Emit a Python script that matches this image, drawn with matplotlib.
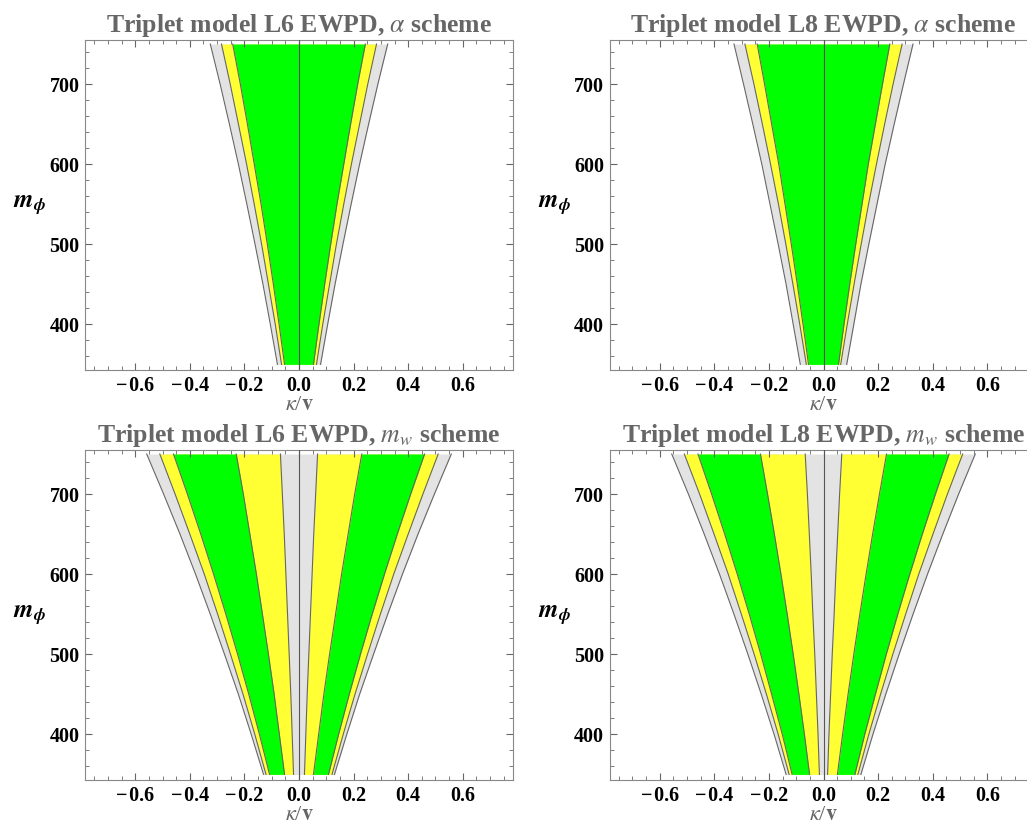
import numpy as np
import matplotlib.pyplot as plt
from matplotlib.ticker import MultipleLocator

plt.rcParams['font.family'] = ['Liberation Serif', 'DejaVu Serif']
plt.rcParams['mathtext.fontset'] = 'stix'

# scalar mass grid
m_phi = [350, 400, 450, 500, 550, 600, 650, 700, 750]

# alpha scheme: half widths of the allowed bands in kappa/v
l6_alpha_gray = [0.079, 0.105, 0.132, 0.161, 0.191, 0.222, 0.255, 0.289, 0.325]
l6_alpha_yellow = [0.064, 0.087, 0.112, 0.137, 0.164, 0.192, 0.222, 0.252, 0.284]
l6_alpha_green = [0.053, 0.073, 0.094, 0.116, 0.139, 0.164, 0.189, 0.215, 0.243]

l8_alpha_gray = [0.085, 0.111, 0.137, 0.166, 0.196, 0.226, 0.259, 0.293, 0.328]
l8_alpha_yellow = [0.063, 0.087, 0.112, 0.138, 0.165, 0.194, 0.224, 0.255, 0.288]
l8_alpha_green = [0.055, 0.075, 0.096, 0.118, 0.141, 0.164, 0.190, 0.216, 0.243]

# m_w scheme: outer/inner edges of the bands (mirrored about kappa = 0)
l6_mw_gray = [0.130, 0.175, 0.222, 0.273, 0.325, 0.379, 0.436, 0.496, 0.558]
l6_mw_yellow_out = [0.121, 0.162, 0.205, 0.251, 0.298, 0.347, 0.400, 0.454, 0.510]
l6_mw_green_out = [0.108, 0.145, 0.184, 0.225, 0.268, 0.313, 0.360, 0.409, 0.460]
l6_mw_green_in = [0.053, 0.072, 0.091, 0.112, 0.134, 0.156, 0.180, 0.204, 0.230]
l6_mw_yellow_in = [0.020, 0.025, 0.030, 0.036, 0.042, 0.048, 0.054, 0.061, 0.068]

l8_mw_gray = [0.137, 0.181, 0.228, 0.277, 0.328, 0.381, 0.437, 0.495, 0.556]
l8_mw_yellow_out = [0.126, 0.166, 0.209, 0.254, 0.301, 0.349, 0.401, 0.454, 0.510]
l8_mw_green_out = [0.115, 0.151, 0.190, 0.230, 0.272, 0.316, 0.362, 0.410, 0.460]
l8_mw_green_in = [0.051, 0.070, 0.090, 0.111, 0.133, 0.156, 0.180, 0.205, 0.231]
l8_mw_yellow_in = [0.015, 0.020, 0.026, 0.032, 0.039, 0.045, 0.052, 0.059, 0.067]

titles = [r'Triplet model L6 EWPD, $\alpha$ scheme',
          r'Triplet model L8 EWPD, $\alpha$ scheme',
          r'Triplet model L6 EWPD, $m_w$ scheme',
          r'Triplet model L8 EWPD, $m_w$ scheme']

GRAY = '#e3e3e3'
YELLOW = '#ffff33'
GREEN = '#00ff00'
EDGE = '#666666'

W, H = 1027, 825
fig = plt.figure(figsize=(W / 100, H / 100), dpi=100)


def add_panel(x0, ytop):
    return fig.add_axes([x0 / W, 1 - (ytop + 330) / H, 428 / W, 330 / H])


def band(ax, m, lo, hi, color):
    ax.fill_betweenx(m, lo, hi, color=color, lw=0)
    ax.plot(lo, m, color=EDGE, lw=0.8)
    ax.plot(hi, m, color=EDGE, lw=0.8)


def style(ax, title):
    ax.set_xlim(-0.784, 0.784)
    ax.set_ylim(343, 755)
    ax.axvline(0, color='#555555', lw=0.8, zorder=5)
    ax.xaxis.set_major_locator(MultipleLocator(0.2))
    ax.xaxis.set_minor_locator(MultipleLocator(0.05))
    ax.yaxis.set_major_locator(MultipleLocator(100))
    ax.yaxis.set_minor_locator(MultipleLocator(20))
    ax.tick_params(which='both', direction='in', top=True, right=True,
                   color='#666666', labelsize=14.5)
    ax.tick_params(which='major', length=5, width=0.8, pad=4)
    ax.tick_params(which='minor', length=3, width=0.6)
    ax.set_xticks([-0.6, -0.4, -0.2, 0.0, 0.2, 0.4, 0.6])
    ax.set_xticklabels(['\u2212\u200a0.6', '\u2212\u200a0.4', '\u2212\u200a0.2',
                        '0.0', '0.2', '0.4', '0.6'])
    for lab in ax.get_xticklabels() + ax.get_yticklabels():
        lab.set_fontweight('bold')
    for sp in ax.spines.values():
        sp.set_color('#888888')
        sp.set_linewidth(0.8)
    ax.set_title(title, fontsize=18.5, fontweight='bold', color='#666666', pad=6)
    ax.set_xlabel(r'$\kappa$/$\mathbf{v}$', fontsize=16, color='#666666', labelpad=0)
    ax.set_ylabel(r'$\mathbfit{m}_{\mathbfit{\phi}}$', fontsize=18, rotation=0,
                  labelpad=14, va='center')


m = np.array(m_phi)

alpha_sets = [(l6_alpha_gray, l6_alpha_yellow, l6_alpha_green),
              (l8_alpha_gray, l8_alpha_yellow, l8_alpha_green)]
mw_sets = [(l6_mw_gray, l6_mw_yellow_out, l6_mw_green_out, l6_mw_green_in, l6_mw_yellow_in),
           (l8_mw_gray, l8_mw_yellow_out, l8_mw_green_out, l8_mw_green_in, l8_mw_yellow_in)]
lefts = [85, 609.5]

for i, (g, y, gr) in enumerate(alpha_sets):
    ax = add_panel(lefts[i], 40)
    g, y, gr = np.array(g), np.array(y), np.array(gr)
    band(ax, m, -g, g, GRAY)
    band(ax, m, -y, y, YELLOW)
    band(ax, m, -gr, gr, GREEN)
    style(ax, titles[i])

for i, (g, yo, go, gi, yi) in enumerate(mw_sets):
    ax = add_panel(lefts[i], 450)
    g, yo, go, gi, yi = map(np.array, (g, yo, go, gi, yi))
    band(ax, m, -g, g, GRAY)
    band(ax, m, -yo, -yi, YELLOW)
    band(ax, m, yi, yo, YELLOW)
    band(ax, m, -go, -gi, GREEN)
    band(ax, m, gi, go, GREEN)
    style(ax, titles[2 + i])

fig.savefig('out.png', dpi=100)
